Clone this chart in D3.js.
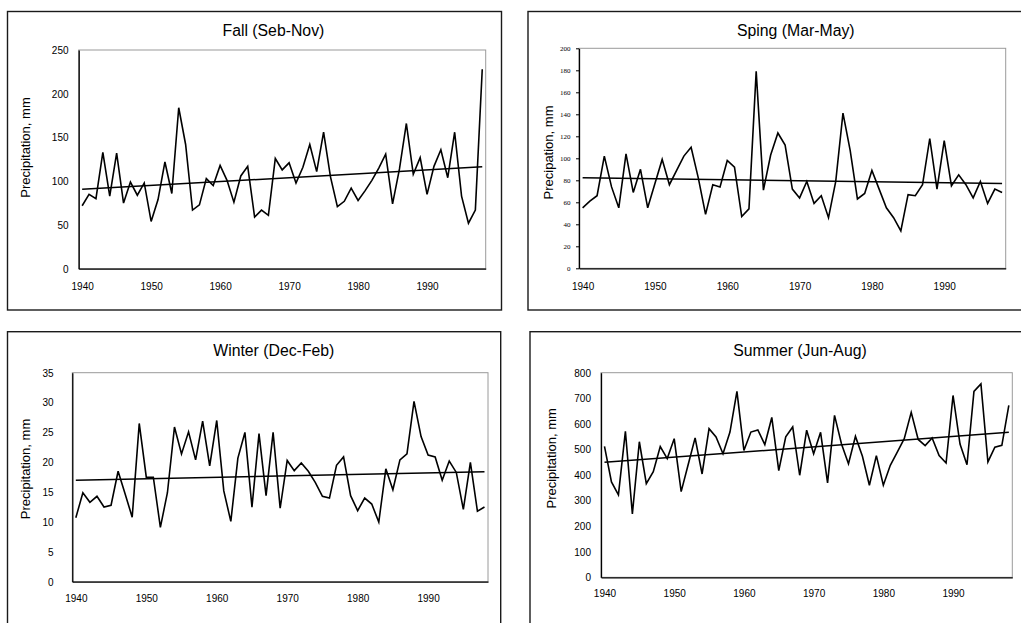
<!DOCTYPE html>
<html>
<head>
<meta charset="utf-8">
<script src="https://cdn.jsdelivr.net/npm/d3@7"></script>
<style>
  body { margin: 0; background: #fff; }
  svg { display: block; }
  text { fill: #000; }
</style>
</head>
<body>
<svg id="chart" width="1021" height="623"></svg>
<script>
// Seasonal precipitation totals, 1940-1998
const years = d3.range(1940, 1999);
const yearTicks = [1940, 1950, 1960, 1970, 1980, 1990];

const fallValues = [72, 85, 80, 133, 83, 132, 75, 99, 84, 98, 54, 79, 122, 86, 184, 142, 67, 73, 103, 95,
  118, 101, 76, 106, 117, 59, 67, 61, 126, 113, 121, 98, 116, 142, 111, 156, 105, 71, 77, 92,
  78, 89, 101, 115, 131, 74, 114, 166, 108, 127, 85, 117, 136, 104, 156, 83, 52, 67, 228];
const springValues = [55, 61, 66, 102, 74, 55, 104, 69, 90, 55, 77, 99, 76, 89, 102, 110, 82, 49, 76, 74,
  98, 92, 47, 54, 179, 71, 103, 123, 112, 72, 64, 79, 59, 66, 46, 79, 141, 107, 63, 68,
  89, 72, 55, 46, 34, 67, 66, 76, 118, 72, 116, 75, 85, 76, 64, 79, 59, 72, 69];
const winterValues = [10.7, 14.9, 13.3, 14.3, 12.5, 12.8, 18.5, 14.7, 10.8, 26.5, 17.5, 17.5, 9.1, 14.9, 25.9, 21.4, 25.1, 20.4, 26.9, 19.4,
  27.0, 15.2, 10.1, 20.7, 25.0, 12.5, 24.8, 14.4, 25.0, 12.3, 20.3, 18.6, 19.9, 18.5, 16.6, 14.3, 14.0, 19.5, 20.9, 14.4,
  11.9, 14.0, 13.0, 10.0, 18.9, 15.4, 20.4, 21.4, 30.2, 24.3, 21.2, 20.9, 17.0, 20.2, 18.3, 12.1, 20.0, 11.8, 12.5];
const summerValues = [512, 373, 322, 571, 248, 530, 366, 413, 511, 464, 542, 335, 440, 545, 404, 581, 549, 483, 568, 727,
  496, 568, 576, 519, 625, 417, 549, 588, 399, 575, 483, 567, 369, 633, 521, 444, 551, 473, 360, 476,
  360, 438, 489, 542, 645, 539, 515, 545, 476, 447, 711, 521, 440, 727, 756, 451, 509, 516, 672];

// Linear trend values at the first and last year
const fallTrend = [90.8, 116.4];
const springTrend = [82.4, 77.0];
const winterTrend = [17.0, 18.4];
const summerTrend = [449.5, 567];

const fallTicks = [0, 50, 100, 150, 200, 250];
const springTicks = [0, 20, 40, 60, 80, 100, 120, 140, 160, 180, 200];
const winterTicks = [0, 5, 10, 15, 20, 25, 30, 35];
const summerTicks = [0, 100, 200, 300, 400, 500, 600, 700, 800];

const svg = d3.select("#chart");
const SANS = "'Liberation Sans', Arial, sans-serif";
const SERIF = "'Liberation Serif', 'Times New Roman', serif";

const panels = [
  { title: "Fall (Seb-Nov)", values: fallValues, trend: fallTrend, ticks: fallTicks, yLabel: "Precipitation, mm",
    box: [7.5, 11.5, 501.5, 310], plot: [78.7, 50, 485.7, 268.7],
    titlePos: [273.4, 35.5], yLabelPos: [30, 147.5], tickRight: 68.5, xLabelY: 290,
    tickFont: SANS, tickSize: 10, tickMarks: false },
  { title: "Sping (Mar-May)", values: springValues, trend: springTrend, ticks: springTicks, yLabel: "Precipation, mm",
    box: [528, 11.5, 1030, 310], plot: [579, 48.3, 1005.7, 268.3],
    titlePos: [795.8, 35.5], yLabelPos: [552.6, 152.5], tickRight: 570.5, xLabelY: 290,
    tickFont: SERIF, tickSize: 7, tickMarks: true },
  { title: "Winter (Dec-Feb)", values: winterValues, trend: winterTrend, ticks: winterTicks, yLabel: "Precipitation, mm",
    box: [7.5, 331.7, 500.7, 640], plot: [72.3, 372.7, 488, 581.7],
    titlePos: [273.8, 356], yLabelPos: [30, 469], tickRight: 53.5, xLabelY: 602,
    tickFont: SANS, tickSize: 10, tickMarks: false },
  { title: "Summer (Jun-Aug)", values: summerValues, trend: summerTrend, ticks: summerTicks, yLabel: "Precipitation, mm",
    box: [530, 331.7, 1030, 640], plot: [601, 372.7, 1012.3, 577.3],
    titlePos: [800, 356], yLabelPos: [556, 458.3], tickRight: 591, xLabelY: 597.5,
    tickFont: SANS, tickSize: 10, tickMarks: false }
];

panels.forEach(p => {
  const [l, t, r, b] = p.plot;
  const g = svg.append("g");

  // chart frame
  g.append("rect")
    .attr("x", p.box[0]).attr("y", p.box[1])
    .attr("width", p.box[2] - p.box[0]).attr("height", p.box[3] - p.box[1])
    .attr("fill", "#fff").attr("stroke", "#1a1a1a").attr("stroke-width", 1.4);

  const x = d3.scaleLinear().domain([1939.5, 1998.5]).range([l, r]);
  const y = d3.scaleLinear().domain([0, d3.max(p.ticks)]).range([b, t]);

  // plot area border (grey), axes drawn over it in black
  g.append("rect")
    .attr("x", l).attr("y", t).attr("width", r - l).attr("height", b - t)
    .attr("fill", "none").attr("stroke", "#9a9a9a").attr("stroke-width", 1);

  const yAxis = d3.axisLeft(y).tickValues(p.ticks)
    .tickSize(p.tickMarks ? 3 : 0).tickSizeOuter(0).tickPadding(0);
  const ya = g.append("g").attr("transform", `translate(${l},0)`).call(yAxis);
  ya.select(".domain").attr("stroke", "#000").attr("stroke-width", 1.3);
  ya.selectAll(".tick line").attr("stroke", "#000");
  ya.selectAll(".tick text")
    .attr("x", p.tickRight - l).attr("dy", "0.34em")
    .attr("text-anchor", "end")
    .style("font-family", p.tickFont).style("font-size", p.tickSize + "px");
  ya.attr("font-family", null).attr("font-size", null);

  const xAxis = d3.axisBottom(x).tickValues(yearTicks).tickFormat(d3.format("d"))
    .tickSize(0).tickSizeOuter(0).tickPadding(0);
  const xa = g.append("g").attr("transform", `translate(0,${b})`).call(xAxis);
  xa.select(".domain").attr("stroke", "#000").attr("stroke-width", 1.3);
  xa.selectAll(".tick text")
    .attr("y", p.xLabelY - b).attr("dy", 0)
    .style("font-family", SANS).style("font-size", "10px");
  xa.attr("font-family", null).attr("font-size", null);

  // yearly series
  const line = d3.line().x((d, i) => x(years[i])).y(d => y(d));
  g.append("path").datum(p.values)
    .attr("d", line)
    .attr("fill", "none").attr("stroke", "#000").attr("stroke-width", 1.6)
    .attr("stroke-linejoin", "miter");

  // linear trend
  g.append("path").datum(p.trend)
    .attr("d", d3.line().x((d, i) => x(i === 0 ? years[0] : years[years.length - 1])).y(d => y(d)))
    .attr("fill", "none").attr("stroke", "#000").attr("stroke-width", 1.5);

  // title
  g.append("text")
    .attr("x", p.titlePos[0]).attr("y", p.titlePos[1])
    .attr("text-anchor", "middle")
    .style("font-family", SANS).style("font-size", "15.8px")
    .text(p.title);

  // y-axis title
  g.append("text")
    .attr("transform", `translate(${p.yLabelPos[0]},${p.yLabelPos[1]}) rotate(-90)`)
    .attr("text-anchor", "middle")
    .style("font-family", SANS).style("font-size", "13px")
    .text(p.yLabel);
});
</script>
</body>
</html>
